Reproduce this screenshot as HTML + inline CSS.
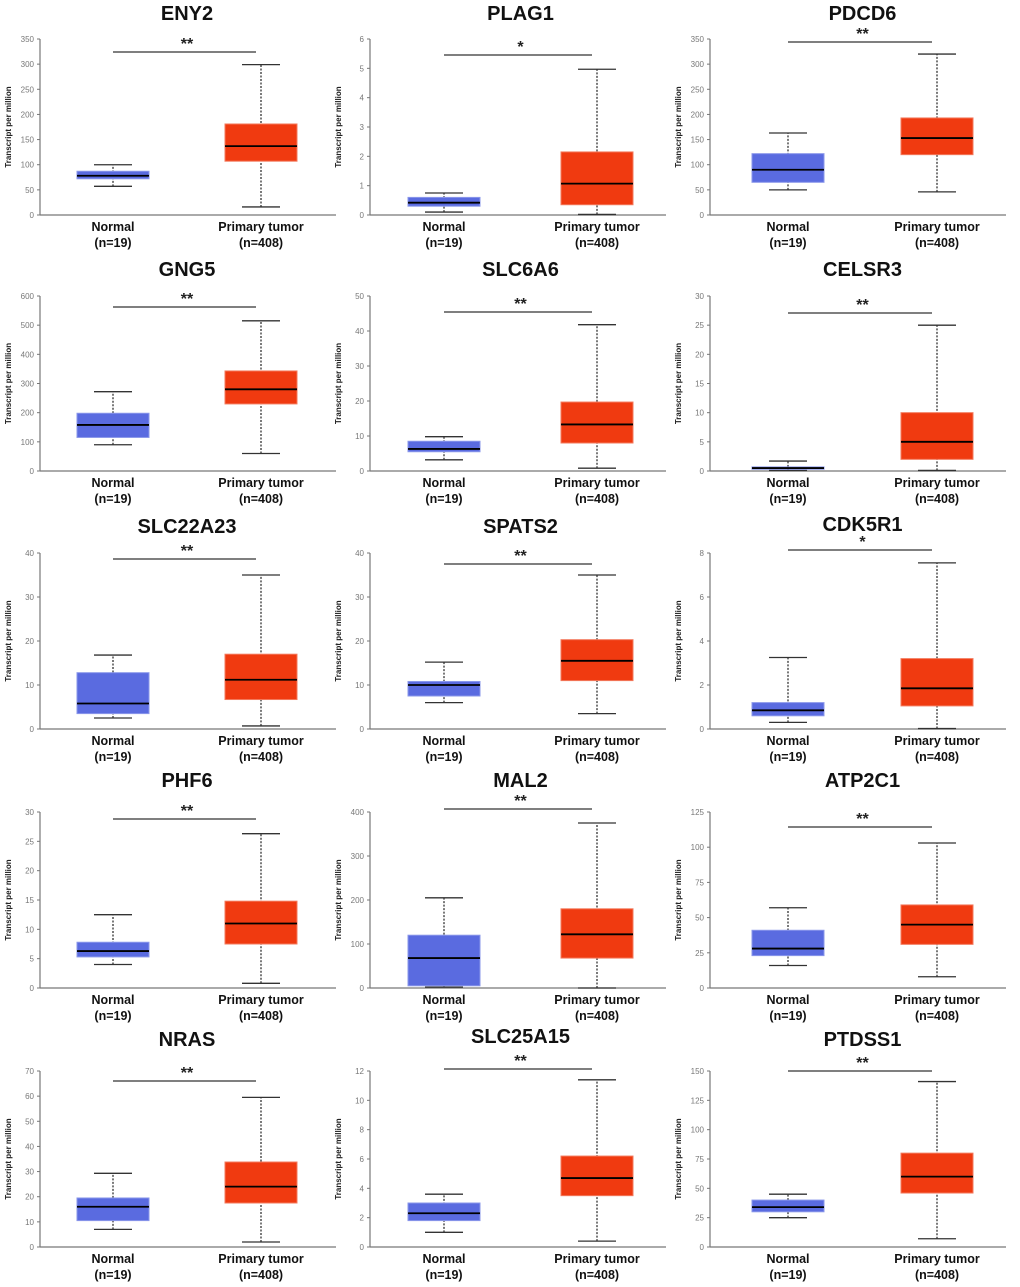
<!DOCTYPE html>
<html><head><meta charset="utf-8"><style>
html,body{margin:0;padding:0;background:#fff;}
svg{display:block;font-family:"Liberation Sans",Arial,sans-serif;}
</style></head><body>
<svg id="fig" width="1020" height="1287" viewBox="0 0 1020 1287"></svg>
<script>
const titles=["ENY2","PLAG1","PDCD6","GNG5","SLC6A6","CELSR3","SLC22A23","SPATS2","CDK5R1","PHF6","MAL2","ATP2C1","NRAS","SLC25A15","PTDSS1"];
const yMaxes=[350,6,350,600,50,30,40,40,8,30,400,125,70,12,150];
const tickSteps=[50,1,50,100,10,5,10,10,2,5,100,25,10,2,25];
const normalStats=[[57,72,78,87,100],[0.1,0.3,0.42,0.6,0.75],[50,65,90,122,163],[90,115,158,198,272],[3.2,5.5,6.3,8.5,9.8],[0.1,0.3,0.5,0.7,1.7],[2.5,3.5,5.8,12.8,16.8],[6,7.5,10,10.8,15.2],[0.3,0.6,0.85,1.2,3.25],[4,5.3,6.3,7.8,12.5],[2,5,68,120,205],[16,23,28,41,57],[7,10.5,16,19.5,29.3],[1,1.8,2.3,3,3.6],[25,30,34,40,45]];
const tumorStats=[[16,107,137,181,299],[0.02,0.35,1.07,2.15,4.97],[46,120,153,193,320],[60,230,280,343,515],[0.8,8,13.3,19.7,41.8],[0.1,2,5,10,25],[0.7,6.7,11.2,17,35],[3.5,11,15.5,20.3,35],[0.02,1.05,1.85,3.2,7.55],[0.8,7.5,11,14.8,26.3],[0,68,122,180,375],[8,31,45,59,103],[2,17.5,24,33.8,59.5],[0.4,3.5,4.7,6.2,11.4],[7,46,60,80,141]];
const sigLabels=["**","*","**","**","**","**","**","**","*","**","**","**","**","**","**"];
const categories=["Normal","Primary tumor"];
const counts=["(n=19)","(n=408)"];
// layout (pixels)
const colAxisX=[40,370,710];
const colNormalOff=[73,74,78];
const colTumorOff=[221,227,227];
const rowZeroY=[215,471,729,988,1247];
const rowTopY=[39,296,553,812,1071];
const sigLineY=[52,55,42,307,312,313,559,564,550,819,809,827,1081,1069,1071];
const titleY=[20,20,20,276,276,276,533,533,531,787,787,787,1046,1043,1046];
const NS="http://www.w3.org/2000/svg";
const svg=document.getElementById('fig');
function mk(tag,attrs,parent,text){const e=document.createElementNS(NS,tag);for(const k in attrs)e.setAttribute(k,attrs[k]);if(text!==undefined)e.textContent=text;(parent||svg).appendChild(e);return e;}
titles.forEach((t,i)=>{
  const c=i%3,r=Math.floor(i/3);
  const ax=colAxisX[c],y0=rowZeroY[r],yt=rowTopY[r];
  const yS=v=>y0-(v/yMaxes[i])*(y0-yt);
  const xC=[ax+colNormalOff[c],ax+colTumorOff[c]];
  const g=mk('g',{});
  
  
  const ti=mk('text',{x:(xC[0]+xC[1])/2,y:titleY[i],'text-anchor':'middle','font-size':20,'font-weight':'bold',fill:'#111'},g,t);
  
  
  const xa=mk('line',{x1:ax,y1:y0,x2:ax+296,y2:y0,stroke:'#777','stroke-width':1.2},g);
  
  
  const ya=mk('line',{x1:ax,y1:y0,x2:ax,y2:yt,stroke:'#777','stroke-width':1.2},g);
  
  
  for(let v=0;v<=yMaxes[i]+1e-9;v+=tickSteps[i]){
    const y=yS(v);
    mk('line',{x1:ax-3,y1:y,x2:ax,y2:y,stroke:'#777'},g);
    const tl=mk('text',{x:ax-6,y:y+3,'text-anchor':'end','font-size':8,fill:'#777'},g,String(Math.round(v*100)/100));
    
    
  }
  const yl=mk('text',{x:0,y:0,transform:`translate(${ax-29},${(y0+yt)/2}) rotate(-90)`,'text-anchor':'middle','font-size':8,'font-weight':'bold',fill:'#222'},g,'Transcript per million');
  
  
  [normalStats[i],tumorStats[i]].forEach((s,k)=>{
    const cx=xC[k],w=72,col=k?'#f03a10':'#5a6be0',ed=k?'#f3795c':'#8a97ea';
    mk('line',{x1:cx,y1:yS(s[0]),x2:cx,y2:yS(s[4]),stroke:'#333','stroke-width':1.3,'stroke-dasharray':'2,1.5'},g);
    mk('line',{x1:cx-19,y1:yS(s[0]),x2:cx+19,y2:yS(s[0]),stroke:'#333','stroke-width':1.3},g);
    mk('line',{x1:cx-19,y1:yS(s[4]),x2:cx+19,y2:yS(s[4]),stroke:'#333','stroke-width':1.3},g);
    const b=mk('rect',{x:cx-w/2,y:yS(s[3]),width:w,height:Math.max(1,yS(s[1])-yS(s[3])),fill:col,stroke:ed,'stroke-width':1},g);
    
    
    mk('line',{x1:cx-w/2,y1:yS(s[2]),x2:cx+w/2,y2:yS(s[2]),stroke:'#000','stroke-width':1.8},g);
    const cl=mk('text',{x:cx,y:y0+16,'text-anchor':'middle','font-size':12.5,'font-weight':'bold',fill:'#111'},g,categories[k]);
    
    
    const nl=mk('text',{x:cx,y:y0+32,'text-anchor':'middle','font-size':12.5,'font-weight':'bold',fill:'#111'},g,counts[k]);
    
    
  });
  const sl=mk('line',{x1:xC[0],y1:sigLineY[i],x2:xC[1]-5,y2:sigLineY[i],stroke:'#333','stroke-width':1.2},g);
  
  
  const st=mk('text',{x:(xC[0]+xC[1])/2,y:sigLineY[i]-3,'text-anchor':'middle','font-size':16,'font-weight':'bold',fill:'#222'},g,sigLabels[i]);
  
  
});
</script>
</body></html>
